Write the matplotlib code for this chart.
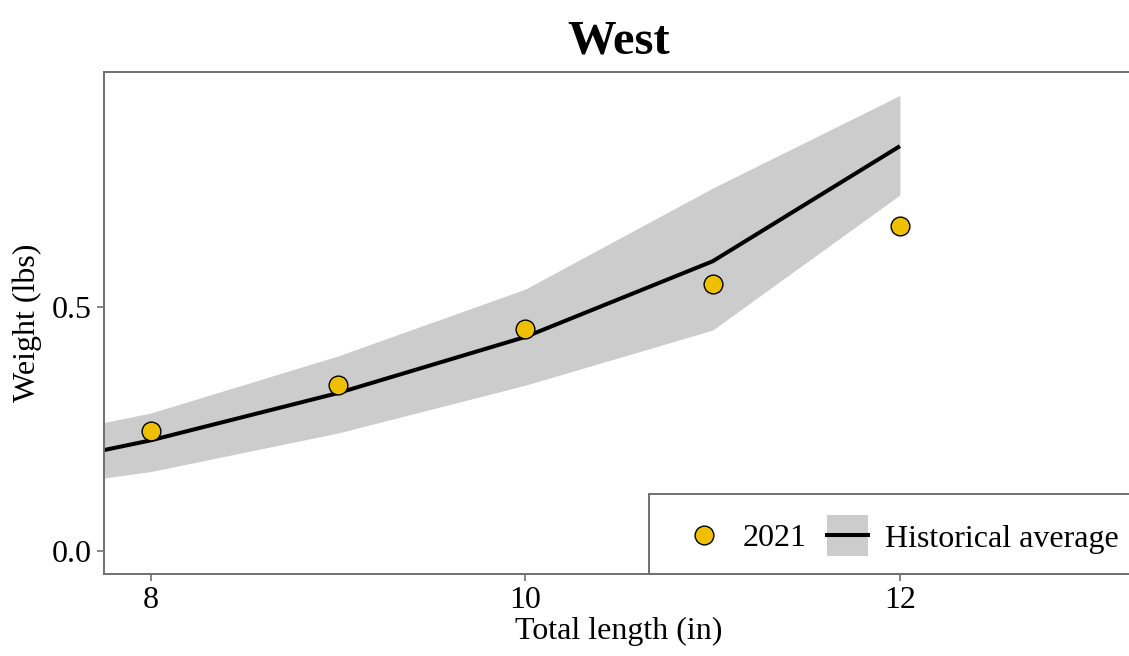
import matplotlib
matplotlib.use("Agg")
import matplotlib.pyplot as plt
from matplotlib.lines import Line2D
from matplotlib.patches import Patch, Rectangle
from matplotlib.legend_handler import HandlerTuple, HandlerPatch

plt.rcParams['font.family'] = ['Liberation Serif', 'DejaVu Serif']

# Historical average (line + ribbon)
hist_x = [7, 8, 9, 10, 11, 12]
hist_mean = [0.147, 0.227, 0.324, 0.439, 0.594, 0.830]
hist_low = [0.110, 0.163, 0.242, 0.340, 0.453, 0.730]
hist_high = [0.205, 0.283, 0.400, 0.537, 0.744, 0.934]

# 2021 observations
obs_x = [8, 9, 10, 11, 12]
obs_y = [0.246, 0.340, 0.455, 0.547, 0.666]

x_ticks = [8, 10, 12]
y_ticks = [0.0, 0.5]

W, H = 1129, 656
FS = 23
MS = 13.5
fig = plt.figure(figsize=(W / 100, H / 100), dpi=100)
ax = fig.add_axes([104 / W, (H - 574) / H, (1134 - 104) / W, (574 - 72) / H])

ax.fill_between(hist_x, hist_low, hist_high, color='#cccccc', lw=0, zorder=1)
ax.plot(hist_x, hist_mean, color='black', lw=2.9, zorder=2, solid_capstyle='butt')
ax.scatter(obs_x, obs_y, s=MS**2, facecolor='#EFC000', edgecolor='black',
           linewidth=1.0, zorder=3)

ax.set_xlim(7.75, 13.25)
ax.set_ylim(-0.047, 0.982)
ax.set_xticks(x_ticks)
ax.set_xticklabels([str(v) for v in x_ticks])
ax.set_yticks(y_ticks)
ax.set_yticklabels([f"{v:.1f}" for v in y_ticks])

spine_col = '#707070'
for s in ['left', 'bottom', 'top']:
    ax.spines[s].set_color(spine_col)
    ax.spines[s].set_linewidth(1.4)
ax.spines['right'].set_visible(False)
ax.tick_params(axis='both', colors=spine_col, length=5, width=1.2,
               labelsize=FS, labelcolor='black', pad=4)

ax.set_xlabel('Total length (in)', fontsize=FS, labelpad=1)
ax.set_ylabel('Weight (lbs)', fontsize=FS, labelpad=7)
ax.set_title('West', fontsize=35, fontweight='bold', pad=13)

# legend frame
frame = Rectangle((649 / W, (H - 574) / H), (1160 - 649) / W, (574 - 494) / H,
                  transform=fig.transFigure, facecolor='white', edgecolor=spine_col,
                  linewidth=1.4, zorder=4, clip_on=False)
fig.patches.append(frame)

KEY_H = 41 * 72 / 100  # key box height in points


def key_rect(legend, orig_handle, xdescent, ydescent, width, height, fontsize):
    cy = (height - ydescent) / 2
    return Rectangle((-xdescent, cy - KEY_H / 2), width, KEY_H)


h1 = Line2D([], [], marker='o', linestyle='none', markersize=MS,
            markerfacecolor='#EFC000', markeredgecolor='black', markeredgewidth=1.0)
h2_patch = Patch(facecolor='#cccccc', edgecolor='none')
h2 = (h2_patch, Line2D([], [], color='black', lw=2.9))
leg = fig.legend([h1, h2], ['2021', 'Historical average'],
                 handler_map={tuple: HandlerTuple(ndivide=1),
                              Patch: HandlerPatch(patch_func=key_rect)},
                 loc='lower left', bbox_to_anchor=(684 / W, (H - 553.5) / H),
                 bbox_transform=fig.transFigure, frameon=False, ncol=2,
                 fontsize=FS, borderpad=0, borderaxespad=0,
                 handlelength=1.28, handleheight=0.7, handletextpad=0.55,
                 columnspacing=0.64)
leg.set_zorder(5)

fig.savefig('out.png', dpi=100)
